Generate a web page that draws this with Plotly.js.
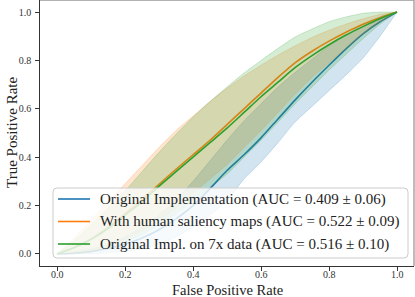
<!DOCTYPE html>
<html><head><meta charset="utf-8">
<script src="https://cdn.plot.ly/plotly-3.0.1.min.js"></script>
<style>html,body{margin:0;padding:0;background:#fff}#chart{width:415px;height:297px}</style>
</head><body><div id="chart"></div>
<script>
const fpr = [0, 0.05, 0.1, 0.15, 0.2, 0.25, 0.3, 0.35, 0.4, 0.45, 0.5, 0.55, 0.6, 0.65, 0.7, 0.75, 0.8, 0.85, 0.9, 0.95, 1.0];

const blueMean = [0, 0.003, 0.01, 0.022, 0.04, 0.066, 0.10, 0.145, 0.20, 0.27, 0.345, 0.41, 0.48, 0.558, 0.636, 0.71, 0.78, 0.848, 0.91, 0.96, 1.0];
const blueLow  = [0, 0, 0, 0.005, 0.01, 0.02, 0.04, 0.07, 0.11, 0.16, 0.22, 0.31, 0.38, 0.46, 0.545, 0.61, 0.675, 0.74, 0.81, 0.90, 1.0];
const blueHigh = [0, 0.008, 0.02, 0.04, 0.07, 0.11, 0.16, 0.225, 0.30, 0.385, 0.47, 0.55, 0.62, 0.69, 0.75, 0.805, 0.86, 0.905, 0.95, 0.98, 1.0];

const orangeMean = [0, 0.027, 0.062, 0.11, 0.167, 0.225, 0.288, 0.35, 0.41, 0.47, 0.535, 0.60, 0.665, 0.73, 0.79, 0.838, 0.88, 0.917, 0.95, 0.977, 1.0];
const orangeLow  = [0, 0.003, 0.01, 0.03, 0.06, 0.095, 0.14, 0.19, 0.25, 0.31, 0.37, 0.44, 0.51, 0.585, 0.66, 0.73, 0.79, 0.85, 0.91, 0.96, 1.0];
const orangeHigh = [0, 0.065, 0.14, 0.215, 0.29, 0.365, 0.44, 0.51, 0.57, 0.63, 0.685, 0.735, 0.78, 0.822, 0.86, 0.895, 0.925, 0.95, 0.972, 0.99, 1.0];

const greenMean = [0, 0.025, 0.06, 0.105, 0.16, 0.215, 0.28, 0.34, 0.40, 0.46, 0.52, 0.585, 0.65, 0.71, 0.77, 0.82, 0.865, 0.905, 0.94, 0.972, 1.0];
const greenLow  = [0, 0.003, 0.01, 0.027, 0.05, 0.08, 0.12, 0.165, 0.22, 0.275, 0.33, 0.40, 0.47, 0.545, 0.62, 0.69, 0.76, 0.825, 0.89, 0.95, 1.0];
const greenHigh = [0, 0.055, 0.12, 0.19, 0.26, 0.34, 0.42, 0.495, 0.565, 0.63, 0.69, 0.748, 0.80, 0.85, 0.897, 0.93, 0.96, 0.98, 0.995, 1.0, 1.0];

const seriesNames = [
  "Original Implementation (AUC = 0.409 ± 0.06)",
  "With human saliency maps (AUC = 0.522 ± 0.09)",
  "Original Impl. on 7x data (AUC = 0.516 ± 0.10)"
];
const xTitle = "False Positive Rate";
const yTitle = "True Positive Rate";
const xTicks = [0, 0.2, 0.4, 0.6, 0.8, 1.0];
const yTicks = [0, 0.2, 0.4, 0.6, 0.8, 1.0];

const series = [
  {name: seriesNames[0], mean: blueMean, low: blueLow, high: blueHigh, rgb: "31,119,180", color: "#1f77b4"},
  {name: seriesNames[1], mean: orangeMean, low: orangeLow, high: orangeHigh, rgb: "255,127,14", color: "#ff7f0e"},
  {name: seriesNames[2], mean: greenMean, low: greenLow, high: greenHigh, rgb: "44,160,44", color: "#2ca02c"}
];

const traces = [];
series.forEach((s) => {
  traces.push({x: fpr, y: s.low, mode: "lines", line: {color: "rgba(" + s.rgb + ",0.25)", width: 0.8, shape: "spline", smoothing: 0.6}, showlegend: false, hoverinfo: "skip"});
  traces.push({x: fpr, y: s.high, mode: "lines", fill: "tonexty", fillcolor: "rgba(" + s.rgb + ",0.2)", line: {color: "rgba(" + s.rgb + ",0.25)", width: 0.8, shape: "spline", smoothing: 0.6}, showlegend: false, hoverinfo: "skip"});
  traces.push({x: fpr, y: s.mean, mode: "lines", name: s.name, showlegend: false, line: {color: s.color, width: 1.6, shape: "spline", smoothing: 0.6}});
});

const serif = "Liberation Serif, DejaVu Serif, serif";

// plot area: 40..414 px wide (374), 0..266 px high
const PW = 374, PH = 266;
const px = (v) => (v - 40) / PW;
const py = (v) => (266 - v) / PH;

const annotations = [
  {text: xTitle, xref: "paper", yref: "paper", x: 0.5, y: py(290), xanchor: "center", yanchor: "middle", showarrow: false, borderpad: 0, font: {family: serif, size: 14.5, color: "#222"}},
  {text: yTitle, xref: "paper", yref: "paper", x: px(12), y: 0.5, xanchor: "center", yanchor: "middle", textangle: -90, showarrow: false, borderpad: 0, font: {family: serif, size: 15, color: "#222"}}
];
xTicks.forEach(v => annotations.push({text: v.toFixed(1), xref: "x", yref: "paper", x: v, y: py(274.5), xanchor: "center", yanchor: "middle", showarrow: false, borderpad: 0, font: {family: serif, size: 10, color: "#333"}}));

// rounded legend frame
const L = px(53), R = px(408), B = py(258), T = py(188);
const rx = 4 / PW, ry = 4 / PH;
const framePath = "M " + (L + rx) + "," + T + " L " + (R - rx) + "," + T + " Q " + R + "," + T + " " + R + "," + (T - ry) +
  " L " + R + "," + (B + ry) + " Q " + R + "," + B + " " + (R - rx) + "," + B +
  " L " + (L + rx) + "," + B + " Q " + L + "," + B + " " + L + "," + (B + ry) +
  " L " + L + "," + (T - ry) + " Q " + L + "," + T + " " + (L + rx) + "," + T + " Z";

const shapes = [
  {type: "line", xref: "paper", yref: "paper", x0: 0, x1: 1, y0: 1, y1: 1, line: {color: "#999", width: 1.3}},
  {type: "line", xref: "paper", yref: "paper", x0: 1, x1: 1, y0: 0, y1: 1, line: {color: "#999", width: 1.3}},
  {type: "path", xref: "paper", yref: "paper", path: framePath, fillcolor: "rgba(255,255,255,0.8)", line: {color: "#cccccc", width: 1}, layer: "above"}
];
const rowY = [199, 221.5, 244];
series.forEach((s, i) => {
  shapes.push({type: "line", xref: "paper", yref: "paper", x0: px(58), x1: px(90), y0: py(rowY[i]), y1: py(rowY[i]), line: {color: s.color, width: 1.6}, layer: "above"});
  annotations.push({text: s.name, xref: "paper", yref: "paper", x: px(99), y: py(rowY[i]), xanchor: "left", yanchor: "middle", showarrow: false, borderpad: 0, font: {family: serif, size: 15, color: "#222"}});
});

const layout = {
  width: 415, height: 297,
  margin: {l: 40, r: 1, t: 0, b: 31},
  paper_bgcolor: "#fff", plot_bgcolor: "#fff",
  font: {family: serif, color: "#222"},
  showlegend: false,
  xaxis: {
    range: [-0.05, 1.05], tickvals: xTicks, showticklabels: false,
    ticks: "outside", ticklen: 3.5, tickwidth: 1, tickcolor: "#333",
    showline: true, linecolor: "#333", linewidth: 1.3, showgrid: false, zeroline: false
  },
  yaxis: {
    range: [-0.05, 1.05], tickvals: yTicks, ticktext: yTicks.map(v => v.toFixed(1)),
    ticks: "outside", ticklen: 3.5, tickwidth: 1, tickcolor: "#333", ticklabelstandoff: 2,
    showline: true, linecolor: "#333", linewidth: 1.3, showgrid: false, zeroline: false,
    tickfont: {family: serif, size: 10, color: "#333"}
  },
  annotations: annotations,
  shapes: shapes
};
Plotly.newPlot("chart", traces, layout, {staticPlot: true, displayModeBar: false});
</script></body></html>
